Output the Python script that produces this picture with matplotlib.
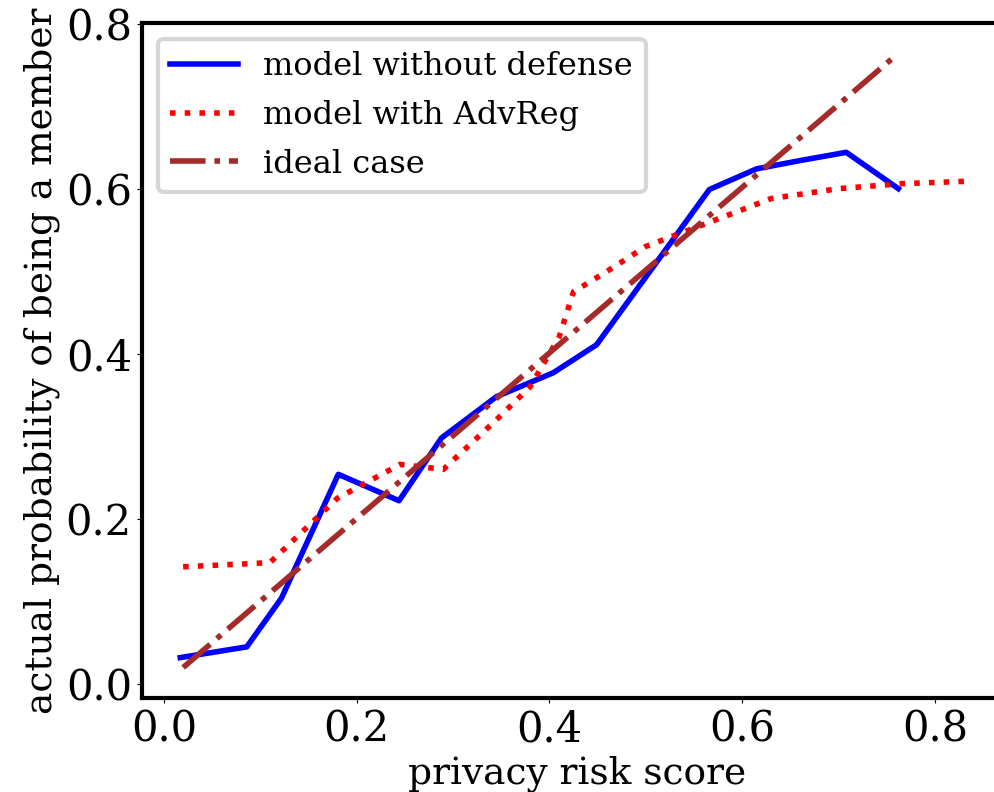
import matplotlib
matplotlib.use("Agg")
import matplotlib.pyplot as plt

# ---- data ----
nodef_x = [0.017, 0.086, 0.122, 0.181, 0.244, 0.288, 0.345, 0.404, 0.449, 0.566, 0.615, 0.660, 0.708, 0.762]
nodef_y = [0.032, 0.045, 0.104, 0.254, 0.222, 0.298, 0.348, 0.377, 0.411, 0.599, 0.624, 0.634, 0.644, 0.600]

adv_x = [0.020, 0.110, 0.180, 0.245, 0.290, 0.345, 0.380, 0.410, 0.425, 0.460, 0.500, 0.545, 0.590, 0.630, 0.700, 0.765, 0.835]
adv_y = [0.142, 0.147, 0.225, 0.266, 0.260, 0.320, 0.360, 0.420, 0.475, 0.500, 0.530, 0.550, 0.570, 0.588, 0.600, 0.606, 0.609]

ideal_x = [0.020, 0.761]
ideal_y = [0.020, 0.763]

labels = ["model without defense", "model with AdvReg", "ideal case"]
xticks = [0.0, 0.2, 0.4, 0.6, 0.8]
yticks = [0.0, 0.2, 0.4, 0.6, 0.8]

plt.rcParams['font.family'] = ['DejaVu Serif']

W, H = 995, 792
fig = plt.figure(figsize=(W / 100, H / 100), dpi=100)
left, right, bottom, top = 141.7, 1013, 698.3, 22.7
ax = fig.add_axes([left / W, (H - bottom) / H, (right - left) / W, (bottom - top) / H])

ax.plot(nodef_x, nodef_y, color='blue', lw=4, linestyle='-', label=labels[0])
ax.plot(adv_x, adv_y, color='red', lw=4, linestyle=':', label=labels[1])
ax.plot(ideal_x, ideal_y, color='brown', lw=4, linestyle='-.', label=labels[2])

ax.set_xlim(-0.023, 0.881)
ax.set_ylim(-0.0173, 0.801)
ax.set_xticks(xticks)
ax.set_yticks(yticks)
ax.set_xticklabels([f"{v:.1f}" for v in xticks])
ax.set_yticklabels([f"{v:.1f}" for v in yticks])
ax.tick_params(labelsize=30)
for s in ax.spines.values():
    s.set_linewidth(3)
ax.spines['right'].set_visible(False)

ax.set_xlabel("privacy risk score", fontsize=27, labelpad=4)
ax.set_ylabel("actual probability of being a member", fontsize=27, labelpad=4)

leg = ax.legend(loc='upper left', fontsize=23, handlelength=2.1,
                labelspacing=0.55)
leg.get_frame().set_linewidth(3)

fig.savefig("out.png", dpi=100)
